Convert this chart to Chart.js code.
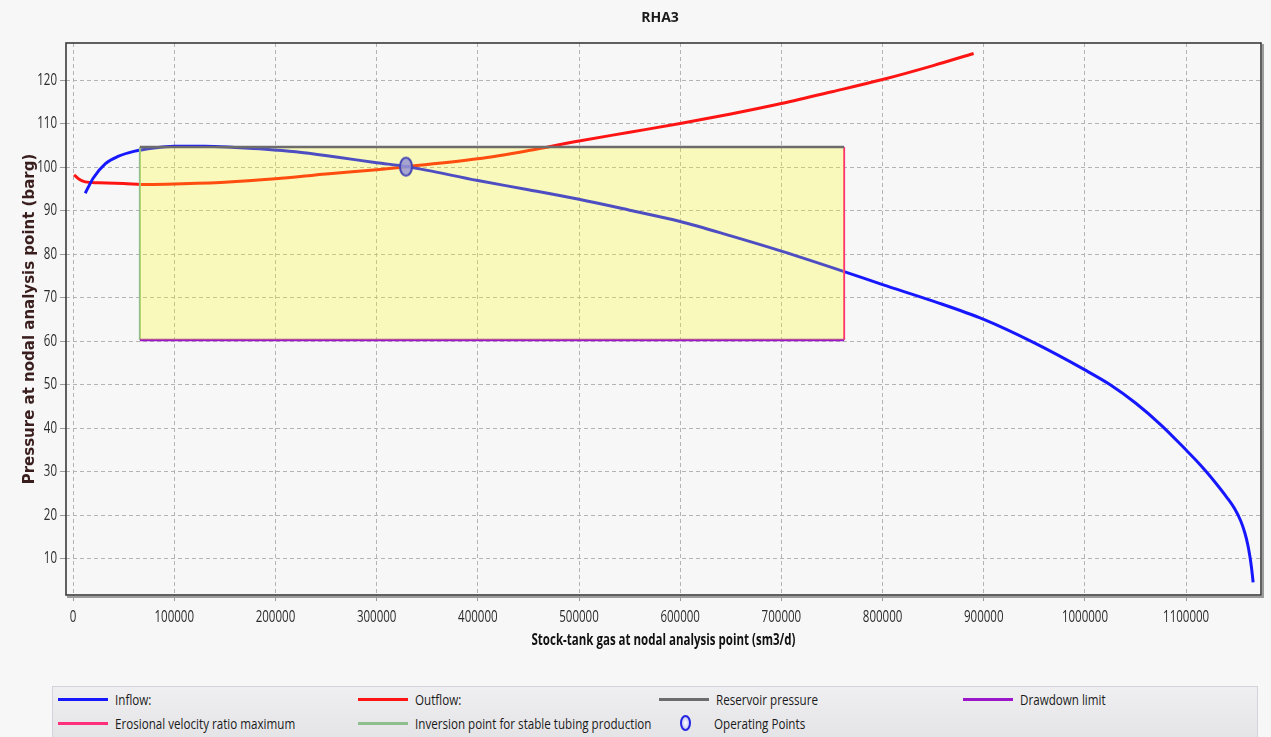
<!DOCTYPE html>
<html>
<head>
<meta charset="utf-8">
<title>RHA3 nodal analysis</title>
<script src="https://cdn.jsdelivr.net/npm/chart.js@4.4.1/dist/chart.umd.min.js"></script>
<style>
  html, body { margin: 0; padding: 0; background: #f7f7f7; overflow: hidden; }
  #wrap { position: relative; width: 1271px; height: 737px; overflow: hidden; background: #f7f7f7; }
  #chart { position: absolute; left: 0; top: 0; }
  #title {
    position: absolute; left: 560px; width: 200px; top: 7px; text-align: center;
    font-family: 'Open Sans', sans-serif; font-weight: bold; font-size: 14px; color: #1a1a1a;
  }
  #legend {
    position: absolute; left: 52px; top: 686px; width: 1206px; height: 60px;
    border: 1px solid #d2d4dc; box-sizing: border-box;
    background: linear-gradient(#efeff1, #e3e3e5);
    font-family: 'Open Sans', sans-serif; font-size: 15.3px; color: #1a1a1a;
  }
  .item { position: absolute; height: 18px; display: flex; align-items: center; white-space: nowrap; }
  .item .txt { display: inline-block; transform: scaleX(0.76); transform-origin: 0 50%; }
  .swatch { display: inline-block; width: 50px; height: 3px; margin-right: 7px; flex: none; }
  .dot { display: inline-block; width: 11px; height: 16px; border: 2px solid #2424e0; border-radius: 50%; flex: none;
         background: radial-gradient(#ffffff, #b4b4f0); margin: 0 23px 0 21px; box-sizing: border-box; }
</style>
</head>
<body>
<div id="wrap">
  <canvas id="chart" width="1271" height="737"></canvas>
  <div id="title">RHA3</div>
  <div id="legend"></div>
</div>
<script>
// Inflow performance curve (gas rate sm3/d, pressure barg)
const inflowQ = [12000, 20000, 32000, 45000, 60000, 80000, 100000, 130000, 160000, 190000,
                 220000, 260000, 300000, 330000, 400000, 450000, 500000, 550000, 600000, 650000,
                 700000, 762000, 800000, 850000, 900000, 950000, 1000000, 1025000, 1050000, 1075000,
                 1100000, 1110000, 1120000, 1130000, 1140000, 1148000, 1154000, 1158000, 1161000,
                 1163000, 1164500, 1165500, 1166200];
const inflowP = [94.0, 97.5, 100.8, 102.5, 103.6, 104.4, 104.8, 104.8, 104.5, 104.1,
                 103.5, 102.3, 101.0, 100.1, 96.9, 94.8, 92.6, 90.1, 87.5, 84.2,
                 80.7, 76.0, 73.0, 69.2, 65.0, 59.6, 53.4, 50.0, 45.8, 40.8,
                 35.0, 32.6, 30.0, 27.2, 24.2, 21.5, 18.7, 16.0, 13.2,
                 10.6, 8.2, 6.2, 4.6];

// Tubing (outflow) performance curve
const outflowQ = [1000, 6000, 12000, 25000, 50000, 75000, 100000, 150000, 200000, 250000,
                  300000, 330000, 400000, 450000, 500000, 550000, 600000, 650000, 700000, 750000,
                  800000, 850000, 890000];
const outflowP = [98.2, 97.2, 96.6, 96.4, 96.2, 96.0, 96.1, 96.5, 97.3, 98.4,
                  99.4, 100.1, 101.9, 103.8, 106.0, 108.0, 110.0, 112.2, 114.6, 117.3,
                  120.1, 123.3, 126.1];

// Operating window limits
const reservoirPressure = 104.6;   // barg
const drawdownLimit = 60.3;        // barg
const erosionalMaxQ = 762000;      // sm3/d
const inversionQ = 66000;          // sm3/d

// Operating point (intersection of inflow and outflow)
const operatingQ = [329000];
const operatingP = [100.1];

// Axis tick values
const xTicks = [0, 100000, 200000, 300000, 400000, 500000, 600000, 700000, 800000, 900000, 1000000, 1100000];
const yTicks = [10, 20, 30, 40, 50, 60, 70, 80, 90, 100, 110, 120];

const toPoints = (xs, ys) => xs.map((x, i) => ({ x: x, y: ys[i] }));

// Elliptical marker for the operating point
function makeMarker() {
  const c = document.createElement('canvas');
  c.width = 16; c.height = 22;
  const g = c.getContext('2d');
  g.beginPath();
  g.ellipse(8, 11, 6, 9, 0, 0, Math.PI * 2);
  g.fillStyle = 'rgba(150,150,212,0.85)';
  g.fill();
  g.lineWidth = 2;
  g.strokeStyle = '#4646b4';
  g.stroke();
  return c;
}

const uiFont = "'Open Sans', 'Noto Sans', sans-serif";

// Draws horizontal axis text in a narrow (condensed) style
const condensedText = {
  id: 'condensedText',
  beforeDraw(chart, args, opts) {
    const ctx = chart.ctx;
    const base = CanvasRenderingContext2D.prototype.fillText;
    ctx.fillText = function (text, x, y, maxWidth) {
      const m = this.getTransform();
      if (Math.abs(m.b) > 1e-6 || Math.abs(m.c) > 1e-6) {
        return base.call(this, text, x, y, maxWidth);
      }
      this.save();
      this.translate(x, y);
      this.scale(opts.factor, 1);
      base.call(this, text, 0, 0);
      this.restore();
    };
  },
  afterDraw(chart) {
    delete chart.ctx.fillText;
  }
};

// Frame around the plot area with a darker right/bottom edge
const plotFrame = {
  id: 'plotFrame',
  afterDraw(chart) {
    const { ctx, chartArea: a } = chart;
    ctx.save();
    ctx.strokeStyle = '#9c9c9c';
    ctx.lineWidth = 2;
    ctx.beginPath();
    ctx.moveTo(a.right + 2, a.top + 1);
    ctx.lineTo(a.right + 2, a.bottom + 2);
    ctx.lineTo(a.left + 1, a.bottom + 2);
    ctx.stroke();
    ctx.strokeStyle = '#3a3a3a';
    ctx.lineWidth = 1.6;
    ctx.strokeRect(a.left, a.top, a.right - a.left, a.bottom - a.top);
    ctx.restore();
  }
};

// HTML legend laid out in four columns
const columnLeft = [5, 305, 606, 910];
const rowTop = [3, 27];
const htmlLegend = {
  id: 'htmlLegend',
  afterUpdate(chart) {
    const box = document.getElementById('legend');
    box.innerHTML = '';
    chart.data.datasets.forEach((ds, i) => {
      const item = document.createElement('div');
      item.className = 'item';
      item.style.left = columnLeft[i % 4] + 'px';
      item.style.top = rowTop[Math.floor(i / 4)] + 'px';
      const mark = document.createElement('span');
      if (ds.showLine === false) {
        mark.className = 'dot';
      } else {
        mark.className = 'swatch';
        mark.style.background = ds.borderColor;
      }
      const txt = document.createElement('span');
      txt.className = 'txt';
      txt.textContent = ds.label;
      item.appendChild(mark);
      item.appendChild(txt);
      box.appendChild(item);
    });
  }
};

const lineCommon = { pointRadius: 0, pointHoverRadius: 0, fill: false };
const gridStyle = { color: '#b4b4b4', tickLength: 6, tickColor: '#9a9a9a', tickBorderDash: [], drawTicks: true };

new Chart(document.getElementById('chart'), {
  type: 'line',
  data: {
    datasets: [
      Object.assign({ label: 'Inflow:', data: toPoints(inflowQ, inflowP), borderColor: '#1717ff',
        borderWidth: 3, cubicInterpolationMode: 'monotone', order: 3 }, lineCommon),
      Object.assign({ label: 'Outflow:', data: toPoints(outflowQ, outflowP), borderColor: '#ff1414',
        borderWidth: 3, cubicInterpolationMode: 'monotone', order: 3 }, lineCommon),
      Object.assign({}, lineCommon, { label: 'Reservoir pressure',
        data: [{ x: inversionQ, y: reservoirPressure }, { x: erosionalMaxQ, y: reservoirPressure }],
        borderColor: '#6c6c6c', borderWidth: 2.5, fill: '+1', backgroundColor: 'rgba(255,255,0,0.24)', order: 2 }),
      Object.assign({ label: 'Drawdown limit',
        data: [{ x: inversionQ, y: drawdownLimit }, { x: erosionalMaxQ, y: drawdownLimit }],
        borderColor: '#9a16c8', borderWidth: 2.5, order: 2 }, lineCommon),
      Object.assign({ label: 'Erosional velocity ratio maximum',
        data: [{ x: erosionalMaxQ, y: drawdownLimit }, { x: erosionalMaxQ, y: reservoirPressure }],
        borderColor: '#ff2f7c', borderWidth: 2, order: 2 }, lineCommon),
      Object.assign({ label: 'Inversion point for stable tubing production',
        data: [{ x: inversionQ, y: drawdownLimit }, { x: inversionQ, y: reservoirPressure }],
        borderColor: '#8fbf8c', borderWidth: 2, order: 2 }, lineCommon),
      { label: 'Operating Points', data: toPoints(operatingQ, operatingP), showLine: false,
        pointStyle: makeMarker(), pointRadius: 9, borderColor: '#4646b4', order: 1 }
    ]
  },
  options: {
    responsive: false,
    animation: false,
    events: [],
    layout: { padding: { left: 0, right: 6, top: 43, bottom: 82 } },
    plugins: {
      legend: { display: false },
      tooltip: { enabled: false },
      title: { display: false },
      condensedText: { factor: 0.72 }
    },
    scales: {
      x: {
        type: 'linear', min: -7000, max: 1174000,
        afterFit: (s) => { s.height = 60; },
        afterBuildTicks: (s) => { s.ticks = xTicks.map(v => ({ value: v })); },
        ticks: { callback: (v) => String(v), color: '#2a2a2a', padding: 7, maxRotation: 0,
                 autoSkip: false, font: { family: uiFont, size: 16 } },
        grid: gridStyle,
        border: { display: false, dash: [4, 3] },
        title: { display: true, text: 'Stock-tank gas at nodal analysis point (sm3/d)', color: '#111',
                 font: { family: uiFont, size: 16, weight: 'bold' }, padding: { top: 0, bottom: 5 } }
      },
      y: {
        type: 'linear', min: 1.7, max: 128.5,
        afterFit: (s) => { s.width = 66; },
        afterBuildTicks: (s) => { s.ticks = yTicks.map(v => ({ value: v })); },
        ticks: { color: '#2a2a2a', padding: 3, font: { family: uiFont, size: 16 } },
        grid: gridStyle,
        border: { display: false, dash: [4, 3] },
        title: { display: true, text: 'Pressure at nodal analysis point (barg)', color: '#3a1e1e',
                 font: { family: "'DejaVu Sans', sans-serif", size: 15, weight: 'bold' },
                 padding: { top: 21, bottom: 0 } }
      }
    }
  },
  plugins: [condensedText, plotFrame, htmlLegend]
});
</script>
</body>
</html>
